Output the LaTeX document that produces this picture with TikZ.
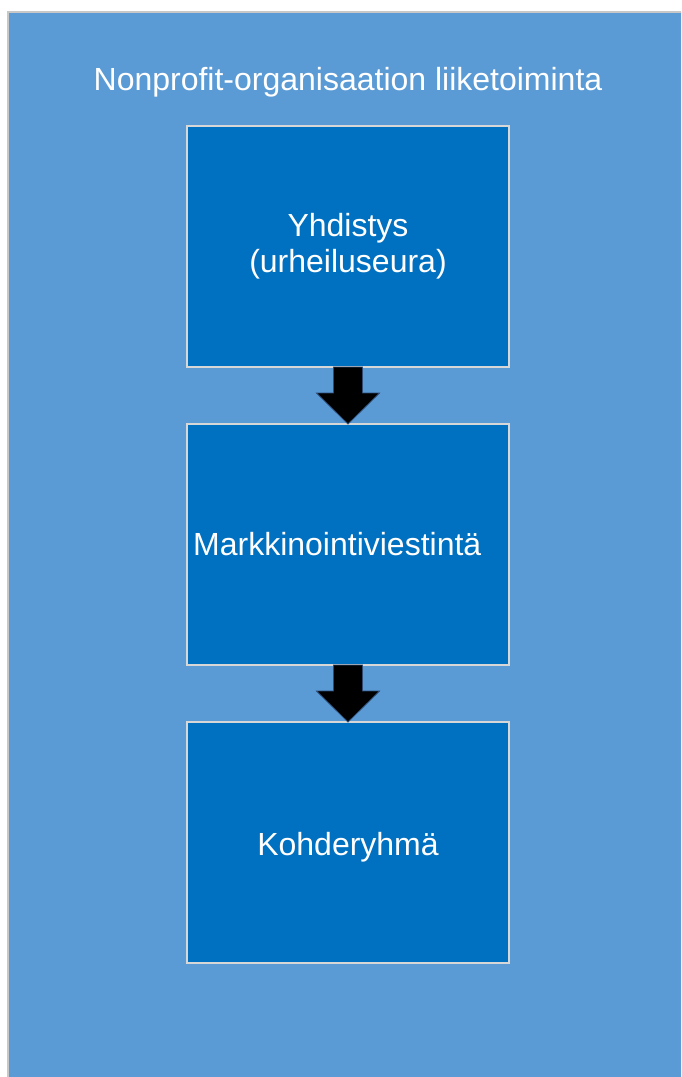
\documentclass[tikz,border=0pt]{standalone}
\usepackage{fontspec}
\setmainfont{Liberation Sans}
\usetikzlibrary{calc}
\definecolor{bgblue}{RGB}{91,155,213}
\definecolor{boxblue}{RGB}{0,112,192}
\definecolor{bgedge}{RGB}{200,200,200}
\definecolor{boxedge}{RGB}{215,215,215}
\definecolor{arredge}{RGB}{45,75,115}
\begin{document}
\begin{tikzpicture}[x=1pt,y=-1pt,
  stagebox/.style={draw=boxedge, line width=1.6pt, fill=boxblue, minimum width=322pt, minimum height=241pt, inner sep=0pt, outer sep=0pt},
  lbl/.style={text=white, font=\fontsize{32}{36}\selectfont, inner sep=0pt, anchor=base},
  downarrow/.style={fill=black, draw=arredge, line width=0.8pt, line join=miter}]
\useasboundingbox (0,0) rectangle (681,1077);
\begin{scope}
\clip (0,0) rectangle (681,1077);
\draw[fill=bgblue, draw=bgedge, line width=1.5pt] (8,12) rectangle (720,1120);
\end{scope}
\node[lbl] (title) at (348,90) {Nonprofit-organisaation liiketoiminta};
\node[stagebox] (b1) at (348,246.5) {};
\node[stagebox] (b2) at (348,544.5) {};
\node[stagebox] (b3) at (348,842.5) {};
\node[lbl] (t1a) at ($(b1.center)+(0,-10.5)$) {Yhdistys};
\node[lbl] (t1b) at ($(b1.center)+(0,26)$) {(urheiluseura)};
\node[lbl, anchor=base west] (t2) at ($(b2.west)+(6,10.5)$) {Markkinointiviestintä};
\node[lbl] (t3) at ($(b3.center)+(0,12.5)$) {Kohderyhmä};
\foreach \a/\b in {b1/b2, b2/b3}{
  \filldraw[downarrow] ($(\a.south)+(-14.5,0)$) -- ($(\a.south)+(14.5,0)$) -- ($(\a.south)+(14.5,26)$) -- ($(\a.south)+(31.5,26)$) -- (\b.north) -- ($(\a.south)+(-31.5,26)$) -- ($(\a.south)+(-14.5,26)$) -- cycle;
}
\end{tikzpicture}
\end{document}
